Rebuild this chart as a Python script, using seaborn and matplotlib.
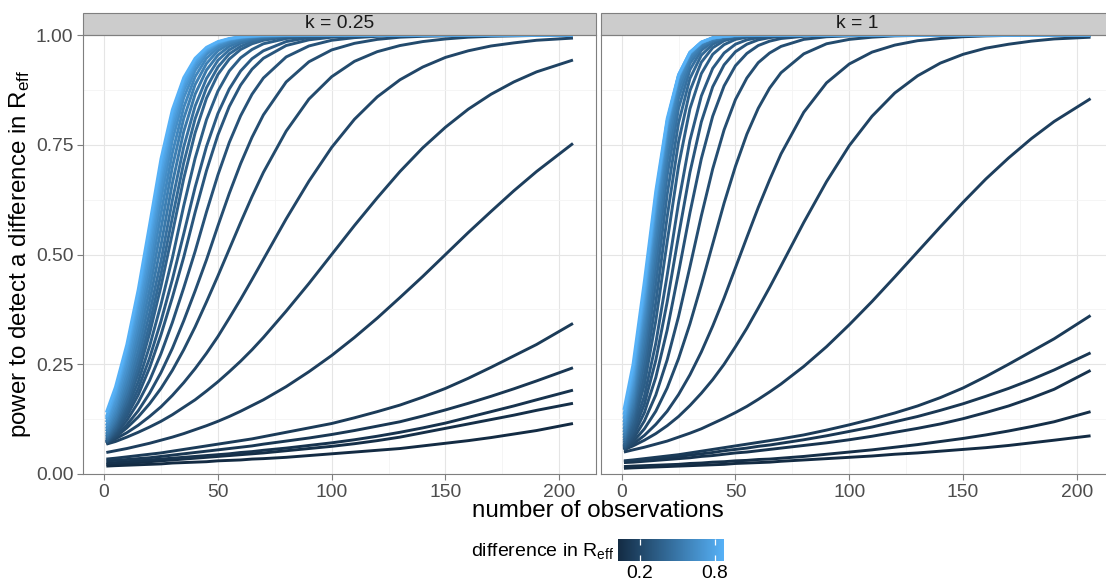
import pandas as pd
import seaborn as sns
import matplotlib as mpl
import matplotlib.pyplot as plt
from matplotlib.colors import LinearSegmentedColormap, Normalize
from matplotlib.patches import Rectangle
from matplotlib.ticker import MultipleLocator

plt.rcParams['font.family'] = ['Liberation Sans', 'DejaVu Sans']
plt.rcParams['mathtext.fontset'] = 'custom'
plt.rcParams['mathtext.rm'] = 'Liberation Sans'
plt.rcParams['mathtext.it'] = 'Liberation Sans:italic'

n_obs = [1, 5, 10, 15, 20, 25, 30, 35, 40, 45, 50, 55, 60, 65, 70, 80, 90, 100,
         110, 120, 130, 140, 150, 160, 170, 180, 190, 206]

# difference in R_eff, one curve per value (same in both panels)
diff_reff = [0.025, 0.05, 0.075, 0.1, 0.125, 0.15, 0.175, 0.2, 0.225, 0.25, 0.275, 0.3, 0.325,
             0.35, 0.375, 0.42, 0.465, 0.51, 0.555, 0.6, 0.645, 0.69, 0.735, 0.78, 0.825, 0.875]

k_labels = ['k = 0.25', 'k = 1']

power_k025 = [
    [0.018, 0.019, 0.020, 0.021, 0.022, 0.023, 0.025, 0.026, 0.027, 0.028, 0.030, 0.031, 0.032, 0.034, 0.035, 0.038, 0.042, 0.046, 0.050, 0.054, 0.058, 0.064, 0.070, 0.076, 0.083, 0.091, 0.099, 0.115],
    [0.022, 0.023, 0.025, 0.026, 0.028, 0.030, 0.032, 0.034, 0.036, 0.038, 0.040, 0.042, 0.044, 0.046, 0.048, 0.053, 0.058, 0.063, 0.069, 0.076, 0.084, 0.094, 0.104, 0.114, 0.124, 0.134, 0.145, 0.161],
    [0.025, 0.026, 0.028, 0.030, 0.032, 0.034, 0.036, 0.038, 0.040, 0.042, 0.044, 0.046, 0.049, 0.051, 0.054, 0.059, 0.065, 0.071, 0.078, 0.086, 0.095, 0.105, 0.116, 0.129, 0.142, 0.155, 0.169, 0.191],
    [0.030, 0.031, 0.033, 0.035, 0.037, 0.040, 0.043, 0.046, 0.049, 0.052, 0.055, 0.058, 0.061, 0.064, 0.068, 0.075, 0.082, 0.090, 0.099, 0.109, 0.119, 0.132, 0.146, 0.161, 0.177, 0.194, 0.212, 0.242],
    [0.034, 0.036, 0.039, 0.042, 0.045, 0.048, 0.052, 0.056, 0.060, 0.064, 0.068, 0.072, 0.076, 0.080, 0.085, 0.095, 0.105, 0.115, 0.128, 0.142, 0.157, 0.175, 0.195, 0.218, 0.243, 0.269, 0.295, 0.343],
    [0.049, 0.053, 0.058, 0.064, 0.070, 0.077, 0.084, 0.092, 0.101, 0.110, 0.120, 0.131, 0.143, 0.156, 0.169, 0.199, 0.233, 0.270, 0.311, 0.355, 0.402, 0.450, 0.500, 0.550, 0.598, 0.645, 0.689, 0.753],
    [0.068, 0.074, 0.084, 0.095, 0.107, 0.120, 0.135, 0.152, 0.169, 0.189, 0.210, 0.233, 0.257, 0.283, 0.311, 0.371, 0.434, 0.500, 0.566, 0.629, 0.689, 0.743, 0.790, 0.831, 0.865, 0.893, 0.916, 0.943],
    [0.069, 0.080, 0.094, 0.111, 0.131, 0.153, 0.179, 0.208, 0.240, 0.275, 0.313, 0.355, 0.398, 0.443, 0.489, 0.581, 0.667, 0.744, 0.808, 0.859, 0.898, 0.927, 0.949, 0.964, 0.975, 0.982, 0.988, 0.993],
    [0.070, 0.084, 0.105, 0.130, 0.160, 0.195, 0.236, 0.283, 0.335, 0.392, 0.451, 0.512, 0.573, 0.632, 0.687, 0.781, 0.854, 0.905, 0.940, 0.962, 0.976, 0.985, 0.991, 0.995, 0.997, 0.998, 0.999, 0.999],
    [0.070, 0.087, 0.112, 0.144, 0.184, 0.231, 0.286, 0.349, 0.417, 0.488, 0.565, 0.639, 0.707, 0.767, 0.818, 0.893, 0.939, 0.966, 0.981, 0.990, 0.995, 0.997, 0.998, 0.999, 1.0, 1.0, 1.0, 1.0],
    [0.071, 0.091, 0.122, 0.163, 0.213, 0.274, 0.345, 0.424, 0.507, 0.597, 0.681, 0.755, 0.816, 0.865, 0.902, 0.950, 0.975, 0.988, 0.994, 0.997, 0.999, 0.999, 1.0, 1.0, 1.0, 1.0, 1.0, 1.0],
    [0.072, 0.095, 0.132, 0.180, 0.242, 0.317, 0.402, 0.494, 0.596, 0.691, 0.772, 0.837, 0.886, 0.922, 0.947, 0.976, 0.989, 0.995, 0.998, 0.999, 1.0, 1.0, 1.0, 1.0, 1.0, 1.0, 1.0, 1.0],
    [0.073, 0.098, 0.139, 0.194, 0.264, 0.348, 0.443, 0.547, 0.653, 0.746, 0.821, 0.877, 0.918, 0.946, 0.964, 0.985, 0.994, 0.997, 0.999, 1.0, 1.0, 1.0, 1.0, 1.0, 1.0, 1.0, 1.0, 1.0],
    [0.074, 0.101, 0.148, 0.210, 0.291, 0.386, 0.492, 0.611, 0.719, 0.807, 0.872, 0.918, 0.948, 0.967, 0.980, 0.992, 0.997, 0.999, 1.0, 1.0, 1.0, 1.0, 1.0, 1.0, 1.0, 1.0, 1.0, 1.0],
    [0.075, 0.105, 0.157, 0.228, 0.320, 0.427, 0.548, 0.673, 0.777, 0.856, 0.910, 0.945, 0.967, 0.980, 0.988, 0.996, 0.999, 1.0, 1.0, 1.0, 1.0, 1.0, 1.0, 1.0, 1.0, 1.0, 1.0, 1.0],
    [0.078, 0.110, 0.166, 0.243, 0.341, 0.455, 0.584, 0.709, 0.809, 0.880, 0.927, 0.957, 0.974, 0.985, 0.991, 0.997, 0.999, 1.0, 1.0, 1.0, 1.0, 1.0, 1.0, 1.0, 1.0, 1.0, 1.0, 1.0],
    [0.082, 0.117, 0.178, 0.261, 0.366, 0.485, 0.623, 0.745, 0.838, 0.901, 0.942, 0.966, 0.981, 0.989, 0.994, 0.998, 0.999, 1.0, 1.0, 1.0, 1.0, 1.0, 1.0, 1.0, 1.0, 1.0, 1.0, 1.0],
    [0.086, 0.124, 0.190, 0.280, 0.393, 0.521, 0.662, 0.780, 0.865, 0.920, 0.954, 0.974, 0.985, 0.992, 0.995, 0.999, 1.0, 1.0, 1.0, 1.0, 1.0, 1.0, 1.0, 1.0, 1.0, 1.0, 1.0, 1.0],
    [0.091, 0.132, 0.204, 0.301, 0.420, 0.558, 0.699, 0.810, 0.887, 0.935, 0.964, 0.980, 0.989, 0.994, 0.997, 0.999, 1.0, 1.0, 1.0, 1.0, 1.0, 1.0, 1.0, 1.0, 1.0, 1.0, 1.0, 1.0],
    [0.097, 0.141, 0.218, 0.322, 0.447, 0.593, 0.731, 0.835, 0.905, 0.947, 0.971, 0.984, 0.991, 0.995, 0.998, 0.999, 1.0, 1.0, 1.0, 1.0, 1.0, 1.0, 1.0, 1.0, 1.0, 1.0, 1.0, 1.0],
    [0.103, 0.150, 0.233, 0.343, 0.473, 0.625, 0.760, 0.857, 0.919, 0.956, 0.976, 0.987, 0.993, 0.996, 0.998, 0.999, 1.0, 1.0, 1.0, 1.0, 1.0, 1.0, 1.0, 1.0, 1.0, 1.0, 1.0, 1.0],
    [0.110, 0.160, 0.248, 0.362, 0.495, 0.651, 0.781, 0.873, 0.929, 0.962, 0.980, 0.989, 0.994, 0.997, 0.998, 1.0, 1.0, 1.0, 1.0, 1.0, 1.0, 1.0, 1.0, 1.0, 1.0, 1.0, 1.0, 1.0],
    [0.118, 0.171, 0.263, 0.380, 0.516, 0.672, 0.797, 0.882, 0.935, 0.965, 0.981, 0.990, 0.995, 0.997, 0.999, 1.0, 1.0, 1.0, 1.0, 1.0, 1.0, 1.0, 1.0, 1.0, 1.0, 1.0, 1.0, 1.0],
    [0.125, 0.181, 0.275, 0.396, 0.536, 0.688, 0.809, 0.890, 0.940, 0.967, 0.983, 0.991, 0.995, 0.998, 0.999, 1.0, 1.0, 1.0, 1.0, 1.0, 1.0, 1.0, 1.0, 1.0, 1.0, 1.0, 1.0, 1.0],
    [0.130, 0.188, 0.285, 0.408, 0.552, 0.704, 0.820, 0.898, 0.944, 0.970, 0.984, 0.991, 0.996, 0.998, 0.999, 1.0, 1.0, 1.0, 1.0, 1.0, 1.0, 1.0, 1.0, 1.0, 1.0, 1.0, 1.0, 1.0],
    [0.140, 0.198, 0.295, 0.420, 0.568, 0.718, 0.830, 0.903, 0.947, 0.972, 0.985, 0.992, 0.996, 0.998, 0.999, 1.0, 1.0, 1.0, 1.0, 1.0, 1.0, 1.0, 1.0, 1.0, 1.0, 1.0, 1.0, 1.0],
]

power_k1 = [
    [0.013, 0.014, 0.015, 0.016, 0.017, 0.018, 0.019, 0.020, 0.021, 0.022, 0.024, 0.025, 0.026, 0.027, 0.029, 0.032, 0.035, 0.038, 0.041, 0.045, 0.048, 0.052, 0.056, 0.060, 0.065, 0.071, 0.077, 0.087],
    [0.017, 0.018, 0.019, 0.020, 0.021, 0.022, 0.024, 0.025, 0.027, 0.028, 0.030, 0.031, 0.033, 0.034, 0.036, 0.040, 0.045, 0.050, 0.055, 0.061, 0.067, 0.074, 0.081, 0.089, 0.098, 0.108, 0.119, 0.142],
    [0.026, 0.027, 0.029, 0.031, 0.033, 0.035, 0.037, 0.040, 0.042, 0.045, 0.048, 0.050, 0.053, 0.056, 0.059, 0.065, 0.071, 0.078, 0.086, 0.095, 0.104, 0.114, 0.126, 0.140, 0.155, 0.173, 0.193, 0.236],
    [0.028, 0.030, 0.032, 0.035, 0.037, 0.040, 0.043, 0.046, 0.049, 0.053, 0.056, 0.059, 0.063, 0.066, 0.070, 0.078, 0.087, 0.097, 0.107, 0.119, 0.131, 0.145, 0.160, 0.177, 0.195, 0.215, 0.237, 0.276],
    [0.030, 0.032, 0.035, 0.038, 0.041, 0.044, 0.048, 0.052, 0.056, 0.060, 0.064, 0.068, 0.072, 0.076, 0.080, 0.089, 0.100, 0.112, 0.125, 0.139, 0.155, 0.174, 0.196, 0.222, 0.250, 0.279, 0.308, 0.361],
    [0.050, 0.055, 0.061, 0.068, 0.075, 0.084, 0.093, 0.103, 0.115, 0.127, 0.140, 0.154, 0.170, 0.187, 0.205, 0.245, 0.290, 0.340, 0.393, 0.449, 0.506, 0.563, 0.619, 0.672, 0.720, 0.764, 0.803, 0.855],
    [0.055, 0.064, 0.077, 0.092, 0.110, 0.131, 0.156, 0.184, 0.215, 0.250, 0.290, 0.332, 0.378, 0.425, 0.474, 0.573, 0.666, 0.748, 0.815, 0.868, 0.907, 0.936, 0.956, 0.970, 0.979, 0.986, 0.991, 0.995],
    [0.055, 0.068, 0.088, 0.113, 0.143, 0.181, 0.226, 0.278, 0.337, 0.401, 0.470, 0.539, 0.607, 0.670, 0.729, 0.824, 0.891, 0.934, 0.961, 0.977, 0.987, 0.992, 0.996, 0.998, 0.999, 0.999, 1.0, 1.0],
    [0.055, 0.073, 0.103, 0.143, 0.196, 0.263, 0.342, 0.431, 0.524, 0.617, 0.701, 0.774, 0.833, 0.879, 0.914, 0.957, 0.980, 0.990, 0.995, 0.998, 0.999, 1.0, 1.0, 1.0, 1.0, 1.0, 1.0, 1.0],
    [0.056, 0.079, 0.121, 0.180, 0.260, 0.359, 0.472, 0.588, 0.695, 0.784, 0.853, 0.902, 0.937, 0.959, 0.974, 0.990, 0.996, 0.998, 0.999, 1.0, 1.0, 1.0, 1.0, 1.0, 1.0, 1.0, 1.0, 1.0],
    [0.057, 0.086, 0.140, 0.220, 0.328, 0.459, 0.595, 0.718, 0.815, 0.884, 0.930, 0.958, 0.976, 0.986, 0.992, 0.997, 0.999, 1.0, 1.0, 1.0, 1.0, 1.0, 1.0, 1.0, 1.0, 1.0, 1.0, 1.0],
    [0.059, 0.093, 0.159, 0.259, 0.392, 0.543, 0.687, 0.802, 0.882, 0.932, 0.962, 0.979, 0.989, 0.994, 0.997, 0.999, 1.0, 1.0, 1.0, 1.0, 1.0, 1.0, 1.0, 1.0, 1.0, 1.0, 1.0, 1.0],
    [0.061, 0.100, 0.178, 0.298, 0.453, 0.618, 0.760, 0.861, 0.924, 0.959, 0.979, 0.989, 0.994, 0.997, 0.998, 1.0, 1.0, 1.0, 1.0, 1.0, 1.0, 1.0, 1.0, 1.0, 1.0, 1.0, 1.0, 1.0],
    [0.063, 0.109, 0.204, 0.349, 0.529, 0.702, 0.832, 0.912, 0.956, 0.978, 0.990, 0.995, 0.998, 0.999, 0.999, 1.0, 1.0, 1.0, 1.0, 1.0, 1.0, 1.0, 1.0, 1.0, 1.0, 1.0, 1.0, 1.0],
    [0.066, 0.117, 0.226, 0.391, 0.586, 0.757, 0.873, 0.938, 0.971, 0.987, 0.994, 0.997, 0.999, 1.0, 1.0, 1.0, 1.0, 1.0, 1.0, 1.0, 1.0, 1.0, 1.0, 1.0, 1.0, 1.0, 1.0, 1.0],
    [0.071, 0.128, 0.252, 0.434, 0.637, 0.800, 0.901, 0.954, 0.979, 0.991, 0.996, 0.998, 0.999, 1.0, 1.0, 1.0, 1.0, 1.0, 1.0, 1.0, 1.0, 1.0, 1.0, 1.0, 1.0, 1.0, 1.0, 1.0],
    [0.076, 0.140, 0.277, 0.474, 0.680, 0.833, 0.921, 0.965, 0.985, 0.994, 0.997, 0.999, 1.0, 1.0, 1.0, 1.0, 1.0, 1.0, 1.0, 1.0, 1.0, 1.0, 1.0, 1.0, 1.0, 1.0, 1.0, 1.0],
    [0.082, 0.153, 0.302, 0.509, 0.713, 0.856, 0.935, 0.972, 0.988, 0.995, 0.998, 0.999, 1.0, 1.0, 1.0, 1.0, 1.0, 1.0, 1.0, 1.0, 1.0, 1.0, 1.0, 1.0, 1.0, 1.0, 1.0, 1.0],
    [0.088, 0.165, 0.325, 0.540, 0.741, 0.874, 0.944, 0.976, 0.990, 0.996, 0.998, 0.999, 1.0, 1.0, 1.0, 1.0, 1.0, 1.0, 1.0, 1.0, 1.0, 1.0, 1.0, 1.0, 1.0, 1.0, 1.0, 1.0],
    [0.095, 0.178, 0.348, 0.567, 0.763, 0.888, 0.951, 0.980, 0.992, 0.997, 0.999, 1.0, 1.0, 1.0, 1.0, 1.0, 1.0, 1.0, 1.0, 1.0, 1.0, 1.0, 1.0, 1.0, 1.0, 1.0, 1.0, 1.0],
    [0.102, 0.190, 0.367, 0.590, 0.780, 0.898, 0.956, 0.982, 0.993, 0.997, 0.999, 1.0, 1.0, 1.0, 1.0, 1.0, 1.0, 1.0, 1.0, 1.0, 1.0, 1.0, 1.0, 1.0, 1.0, 1.0, 1.0, 1.0],
    [0.110, 0.203, 0.385, 0.606, 0.791, 0.903, 0.958, 0.983, 0.993, 0.997, 0.999, 1.0, 1.0, 1.0, 1.0, 1.0, 1.0, 1.0, 1.0, 1.0, 1.0, 1.0, 1.0, 1.0, 1.0, 1.0, 1.0, 1.0],
    [0.118, 0.214, 0.399, 0.618, 0.797, 0.906, 0.959, 0.983, 0.993, 0.997, 0.999, 1.0, 1.0, 1.0, 1.0, 1.0, 1.0, 1.0, 1.0, 1.0, 1.0, 1.0, 1.0, 1.0, 1.0, 1.0, 1.0, 1.0],
    [0.126, 0.226, 0.413, 0.629, 0.803, 0.908, 0.960, 0.983, 0.993, 0.997, 0.999, 1.0, 1.0, 1.0, 1.0, 1.0, 1.0, 1.0, 1.0, 1.0, 1.0, 1.0, 1.0, 1.0, 1.0, 1.0, 1.0, 1.0],
    [0.135, 0.237, 0.423, 0.634, 0.804, 0.908, 0.960, 0.983, 0.993, 0.997, 0.999, 1.0, 1.0, 1.0, 1.0, 1.0, 1.0, 1.0, 1.0, 1.0, 1.0, 1.0, 1.0, 1.0, 1.0, 1.0, 1.0, 1.0],
    [0.146, 0.250, 0.440, 0.645, 0.810, 0.910, 0.961, 0.984, 0.994, 0.997, 0.999, 1.0, 1.0, 1.0, 1.0, 1.0, 1.0, 1.0, 1.0, 1.0, 1.0, 1.0, 1.0, 1.0, 1.0, 1.0, 1.0, 1.0],
]

for table in (power_k025, power_k1):
    assert len(table) == len(diff_reff)
    for ys in table:
        assert len(ys) == len(n_obs), len(ys)

rows = []
for k, table in zip(k_labels, [power_k025, power_k1]):
    for d, ys in zip(diff_reff, table):
        for n, p in zip(n_obs, ys):
            rows.append({'k': k, 'diff': d, 'n': n, 'power': p})
df = pd.DataFrame(rows)

cmap = LinearSegmentedColormap.from_list('gg', ['#132B43', '#56B1F7'])
norm = Normalize(min(diff_reff), max(diff_reff))

W, H = 1106, 582
fig = plt.figure(figsize=(W / 100, H / 100), dpi=100)
ax_l = fig.add_axes([83 / W, 1 - 474 / H, 513.3 / W, 439 / H])
ax_r = fig.add_axes([600.6 / W, 1 - 474 / H, 513.3 / W, 439 / H])

for ax, k in zip([ax_l, ax_r], k_labels):
    sns.lineplot(data=df[df['k'] == k], x='n', y='power', hue='diff', palette=cmap,
                 hue_norm=norm, legend=False, errorbar=None, linewidth=2.1,
                 solid_capstyle='butt', ax=ax)
    ax.set_xlim(-9.25, 216.25)
    ax.set_ylim(0, 1)
    ax.set_xticks([0, 50, 100, 150, 200])
    ax.set_yticks([0, 0.25, 0.5, 0.75, 1.0])
    ax.xaxis.set_minor_locator(MultipleLocator(25))
    ax.yaxis.set_minor_locator(MultipleLocator(0.125))
    ax.grid(which='major', color='#E5E5E5', linewidth=0.8)
    ax.grid(which='minor', color='#F4F4F4', linewidth=0.6)
    ax.set_axisbelow(True)
    for s in ax.spines.values():
        s.set_color('#7F7F7F')
        s.set_linewidth(0.8)
    ax.tick_params(which='major', length=4, width=0.8, color='#7F7F7F',
                   labelsize=13.9, labelcolor='#4D4D4D', pad=3)
    ax.tick_params(which='minor', length=0)
    ax.set_xlabel('')
    ax.set_ylabel('')
    # facet strip
    sh = 22.3 / 439
    ax.add_patch(Rectangle((0, 1), 1, sh, transform=ax.transAxes, clip_on=False,
                           facecolor='#CCCCCC', edgecolor='#7F7F7F', linewidth=0.8))
    ax.text(0.5, 1 + sh / 2, k, transform=ax.transAxes, ha='center', va='center',
            fontsize=13.9, color='#1A1A1A')

ax_l.set_yticklabels(['0.00', '0.25', '0.50', '0.75', '1.00'])
ax_l.set_xticklabels(['0', '50', '100', '150', '200'])
ax_r.set_xticklabels(['0', '50', '100', '150', '200'])
ax_r.tick_params(axis='y', left=False, labelleft=False)

fig.text(598 / W, 1 - 511 / H, 'number of observations', ha='center', va='center', fontsize=17.4)
fig.text(20 / W, 1 - 254 / H, 'power to detect a difference in R$_{\\mathrm{eff}}$',
         ha='center', va='center', rotation=90, fontsize=17.4)

# colour bar legend
cax = fig.add_axes([618 / W, 1 - 561 / H, 106 / W, 22 / H])
cb = mpl.colorbar.ColorbarBase(cax, cmap=cmap, norm=norm, orientation='horizontal', ticks=[0.2, 0.8])
cb.outline.set_visible(False)
cax.set_xticklabels(['0.2', '0.8'])
cax.tick_params(axis='x', direction='in', length=4, width=0.9, color='white',
                top=True, bottom=True, labelsize=13.9, pad=3)
fig.text(614 / W, 1 - 551 / H, 'difference in R$_{\\mathrm{eff}}$', ha='right', va='center', fontsize=14)

fig.savefig('out.png', dpi=100)
